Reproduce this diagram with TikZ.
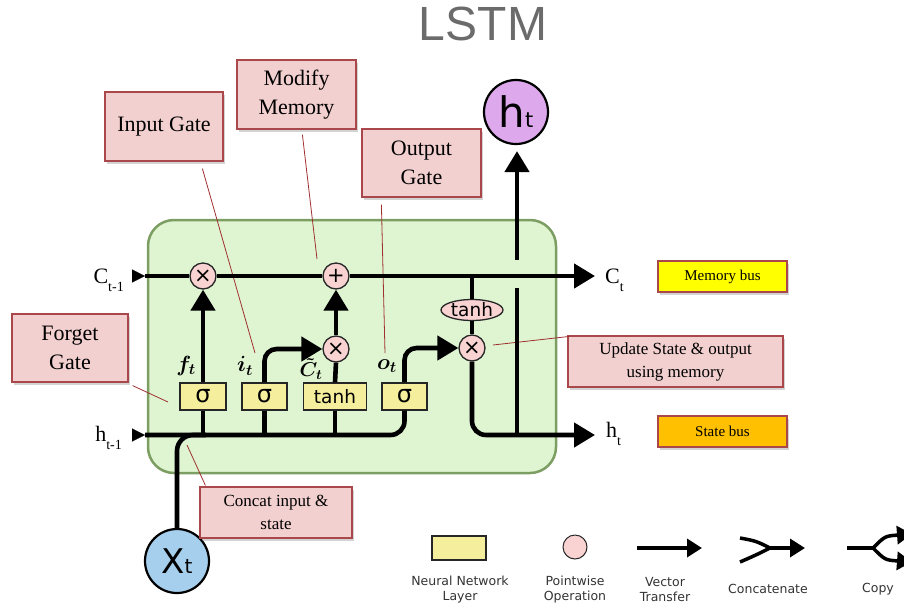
\RequirePackage{fix-cm}
\documentclass[tikz,border=0pt]{standalone}
\usepackage{fontspec}
\setmainfont{Liberation Serif}
\newfontfamily\dejavu{DejaVu Sans}
\newfontfamily\headfont{Liberation Sans}
\usetikzlibrary{arrows.meta,shapes.geometric,shadows,calc}
\definecolor{cellgreen}{HTML}{DFF5D2}
\definecolor{cellborder}{HTML}{7D9E62}
\definecolor{pinkop}{HTML}{F9D2D2}
\definecolor{layeryellow}{HTML}{F5EE9D}
\definecolor{calloutfill}{HTML}{F3D0D0}
\definecolor{calloutborder}{HTML}{A9474A}
\definecolor{leadred}{HTML}{A0302F}
\definecolor{htpurple}{HTML}{DDA8EC}
\definecolor{xtblue}{HTML}{A6CFEE}
\definecolor{titlegray}{HTML}{6B6B6B}
\definecolor{legendgray}{HTML}{333333}
\definecolor{membus}{HTML}{FFFF00}
\definecolor{statebus}{HTML}{FFC000}
\tikzset{
  cellbox/.style={draw=cellborder, line width=2.5pt, fill=cellgreen, rounded corners=26pt,
    minimum width=408pt, minimum height=253pt, inner sep=0pt},
  op/.style={circle, draw=black!85, line width=1.3pt, fill=pinkop, minimum size=26pt,
    inner sep=0pt, font=\dejavu\fontsize{21}{21}\selectfont},
  tanhop/.style={ellipse, draw=black!85, line width=1.3pt, fill=pinkop, minimum width=62pt,
    minimum height=21pt, inner sep=0pt, font=\dejavu\fontsize{18.5}{18.5}\selectfont},
  nnbox/.style={rectangle, draw=black!85, line width=1.3pt, fill=layeryellow, minimum height=27pt,
    inner sep=0pt, font=\dejavu\fontsize{24}{24}\selectfont},
  flow/.style={line width=4.6pt, black},
  flowarrow/.style={flow, -{Triangle[length=21pt,width=24pt]}},
  legflow/.style={line width=3.5pt, black},
  legarrow/.style={legflow, -{Triangle[length=15pt,width=18pt]}},
  intri/.style={-{Triangle[length=13pt,width=13pt]}, line width=0.1pt},
  notebox/.style={draw=calloutborder, line width=1.2pt, fill=calloutfill, align=center, inner sep=0pt,
    drop shadow={shadow xshift=2pt, shadow yshift=-2.5pt, opacity=0.35}},
  bigtext/.style={font=\fontsize{22}{29}\selectfont},
  midtext/.style={font=\fontsize{17}{23}\selectfont},
  busbox/.style={draw=calloutborder, line width=1.2pt, minimum width=129pt, minimum height=31pt,
    inner sep=0pt, font=\fontsize{15}{15}\selectfont,
    drop shadow={shadow xshift=2pt, shadow yshift=-2.5pt, opacity=0.35}},
  leaderline/.style={draw=leadred, line width=0.8pt},
  legendtext/.style={font=\dejavu\fontsize{12.5}{15}\selectfont, text=legendgray, align=center},
  varlabel/.style={font=\fontsize{22}{22}\selectfont\boldmath, inner sep=0pt},
  sidelabel/.style={font=\fontsize{22}{22}\selectfont, inner sep=0pt},
  bigcircle/.style={circle, draw=black, line width=2.2pt, minimum size=64pt, inner sep=0pt}
}
\newcommand{\sublbl}[2]{#1\raisebox{-0.38em}{\fontsize{14}{14}\selectfont #2}}
\begin{document}
\begin{tikzpicture}[x=1pt,y=-1pt]
\useasboundingbox (0,0) rectangle (904,611);
% title
\node[font=\headfont\fontsize{48}{48}\selectfont, text=titlegray] (title) at (483,24) {LSTM};
% cell
\node[cellbox] (cell) at (352,346.5) {};
% operations
\node[op] (fx) at (203,276) {×};
\node[op] (plus) at (336,276) {+};
\node[op] (ix) at (336,349) {×};
\node[op] (ox) at (472,348) {×};
\node[tanhop] (tanhc) at (472,310) {tanh};
\node[nnbox, minimum width=46pt] (sf) at (203,396.5) {σ};
\node[nnbox, minimum width=45pt] (si) at (264.5,396.5) {σ};
\node[nnbox, minimum width=63pt, font=\dejavu\fontsize{18.5}{18.5}\selectfont] (tc) at (335,396.5) {tanh};
\node[nnbox, minimum width=45pt] (so) at (404.5,396.5) {σ};
\node[bigcircle, fill=htpurple] (ht) at (516,112) {\dejavu\fontsize{42}{42}\selectfont h\fontsize{21}{21}\selectfont t};
\node[bigcircle, fill=xtblue] (xt) at (177,561) {\dejavu\fontsize{34}{34}\selectfont X\fontsize{20}{20}\selectfont t};
% coordinates
\coordinate (cinA) at (132,276);
\coordinate (cin) at (145,276);
\coordinate (cout) at (595,276);
\coordinate (hinA) at (132,435);
\coordinate (hin) at (145,435);
\coordinate (hout) at (595,435);
\coordinate (xjoin) at (206,435);
\coordinate (hjoin) at (517,435);
\coordinate (gapb) at (517,288);
\coordinate (gapt) at (517,260);
% leader ends
\coordinate (fgEnd) at (168,402);
\coordinate (igEnd) at (255,353);
\coordinate (mmEnd) at (317,259);
\coordinate (ogEnd) at (385,353);
\coordinate (usEnd) at (493,345);
\coordinate (ccEnd) at (187,445);
% callouts
\node[notebox, bigtext, minimum width=116pt, minimum height=68pt] (fg) at (70,348) {Forget\\Gate};
\node[notebox, bigtext, minimum width=118pt, minimum height=69pt] (ig) at (164,126.5) {Input Gate};
\node[notebox, bigtext, minimum width=119pt, minimum height=69pt] (mm) at (296.5,94.5) {Modify\\Memory};
\node[notebox, bigtext, minimum width=119pt, minimum height=68pt] (og) at (421.5,163) {Output\\Gate};
\node[notebox, midtext, minimum width=215pt, minimum height=51pt] (us) at (675.5,361.5) {Update State \& output\\using memory};
\node[notebox, midtext, minimum width=152pt, minimum height=51pt] (cc) at (276,512.5) {Concat input \&\\state};
\node[busbox, fill=membus] (mb) at (722.5,276.5) {Memory bus};
\node[busbox, fill=statebus] (sb) at (722.5,431.5) {State bus};
% leaders
\draw[leaderline] ([xshift=4pt,yshift=-3pt]fg.south east) -- (fgEnd);
\draw[leaderline] ([xshift=98pt,yshift=-7pt]ig.south west) -- (igEnd);
\draw[leaderline] ([xshift=66pt,yshift=-5pt]mm.south west) -- (mmEnd);
\draw[leaderline] ([xshift=20pt,yshift=-7pt]og.south west) -- (ogEnd);
\draw[leaderline] ([xshift=2pt,yshift=-1pt]us.north west) -- (usEnd);
\draw[leaderline] ([xshift=6pt,yshift=1pt]cc.north west) -- (ccEnd);
% cell state line
\draw[intri] (cinA) -- (cin);
\draw[flow] (cin) -- (fx);
\draw[flow] (fx) -- (plus);
\draw[flowarrow] (plus) -- (cout);
% hidden line
\draw[intri] (hinA) -- (hin);
\draw[flow, rounded corners=14pt] (hin) -- (so.south |- hin) -- (so.south);
\draw[flow] (sf.south |- hin) -- (sf.south);
\draw[flow] (si.south |- hin) -- (si.south);
\draw[flow] (tc.south |- hin) -- (tc.south);
\draw[flow, rounded corners=16pt] (xt.north) -- (xt.north |- hin) -- (xjoin);
% gates
\draw[flowarrow] (sf.north) -- (fx.south);
\draw[flowarrow, rounded corners=12pt] (si.north) -- (si.north |- ix.west) -- (ix.west);
\draw[flow] (tc.north) -- (ix.south);
\draw[flowarrow] (ix.north) -- (plus.south);
\draw[flowarrow, rounded corners=12pt] (so.north) -- (so.north |- ox.west) -- (ox.west);
\draw[flow] (tanhc.north |- plus) -- (tanhc.north);
\draw[flow] (tanhc.south) -- (ox.north);
\draw[flowarrow, rounded corners=14pt] (ox.south) -- (ox.south |- hout) -- (hout);
\draw[flow] (hjoin) -- (gapb);
\draw[flowarrow, shorten >=6pt] (gapt) -- (gapt |- ht.south);
% variable labels
\node[varlabel] (lf) at (186,366) {$f_t$};
\node[varlabel] (li) at (245,366) {$i_t$};
\node[varlabel, font=\fontsize{20}{20}\selectfont\boldmath] (lc) at (311,369) {$\tilde{C}_t$};
\node[varlabel] (lo) at (387,366) {$o_t$};
% side labels
\node[sidelabel, anchor=base east] (lcin) at (124,283) {\sublbl{C}{t-1}};
\node[sidelabel, anchor=base east] (lhin) at (122,441) {\sublbl{h}{t-1}};
\node[sidelabel, anchor=base west] (lcout) at (605,283) {\sublbl{C}{t}};
\node[sidelabel, anchor=base west] (lhout) at (606,437) {\sublbl{h}{t}};
% legend
\node[nnbox, minimum width=54pt, minimum height=24pt] (lgLayer) at (459,548) {};
\node[op, minimum size=24pt, line width=1pt] (lgOp) at (575,547) {};
\coordinate (vt1) at (637,548);
\coordinate (vt2) at (702,548);
\draw[legarrow] (vt1) -- (vt2);
\coordinate (cat1) at (740,538);
\coordinate (cat2) at (740,562);
\coordinate (catm) at (770,548);
\coordinate (catE) at (805,548);
\draw[legflow] (cat1) .. controls (756,541) .. (catm);
\draw[legflow] (cat2) .. controls (756,555) .. (catm);
\draw[legarrow] (catm) -- (catE);
\coordinate (cp1) at (847,548);
\coordinate (cpm) at (873,548);
\coordinate (cpU) at (912,534);
\coordinate (cpD) at (912,562);
\draw[legflow] (cp1) -- (cpm);
\draw[legarrow] (cpm) .. controls (885,536) .. (cpU);
\draw[legarrow] (cpm) .. controls (885,560) .. (cpD);
\node[legendtext] (tLayer) at (460,589.5) {Neural Network\\Layer};
\node[legendtext] (tOp) at (575,589.5) {Pointwise\\Operation};
\node[legendtext] (tVec) at (665,589.5) {Vector\\Transfer};
\node[legendtext] (tCat) at (768,589) {Concatenate};
\node[legendtext] (tCopy) at (878,589) {Copy};
\end{tikzpicture}
\end{document}
